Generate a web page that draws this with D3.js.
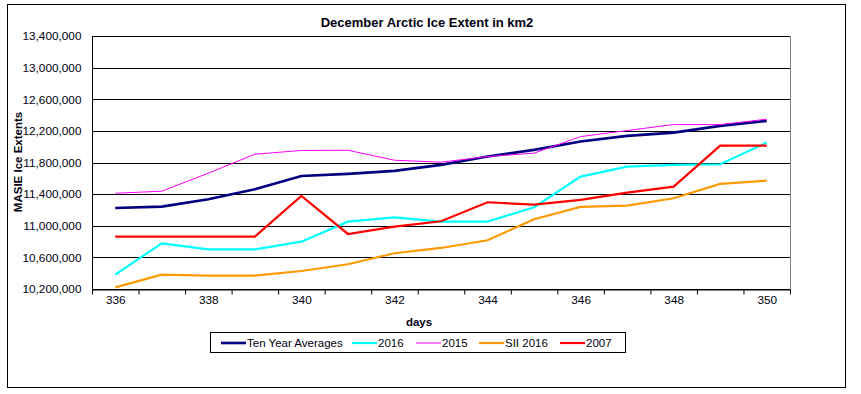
<!DOCTYPE html>
<html>
<head>
<meta charset="utf-8">
<script src="https://cdn.jsdelivr.net/npm/d3@7"></script>
<style>
  body { margin: 0; background: #fff; }
  svg { font-family: "Liberation Sans", Arial, sans-serif; }
  .axis path, .axis line { stroke: #000; }
  .axis text { fill: #000010; font-size: 11.8px; }
</style>
</head>
<body>
<script>
const days = [336,337,338,339,340,341,342,343,344,345,346,347,348,349,350];
const tenYear = [11225000,11242000,11335000,11462000,11630000,11656000,11694000,11770000,11875000,11960000,12065000,12137000,12178000,12263000,12327000];
const y2016 = [10381000,10778000,10702000,10702000,10799000,11052000,11107000,11052000,11052000,11234000,11621000,11748000,11770000,11778000,12052000];
const y2015 = [11411000,11437000,11665000,11905000,11952000,11955000,11829000,11804000,11875000,11918000,12128000,12204000,12280000,12280000,12348000];
const sii2016 = [10221000,10381000,10368000,10368000,10428000,10513000,10652000,10719000,10817000,11082000,11238000,11254000,11348000,11529000,11571000];
const y2007 = [10862000,10862000,10862000,10862000,11377000,10896000,10989000,11057000,11297000,11267000,11327000,11419000,11495000,12014000,12014000];
const yTicks = d3.range(10200000, 13400001, 400000);
const xLabels = [336,338,340,342,344,346,348,350];

const series = [
  {name: "Ten Year Averages", values: tenYear, color: "#000080", width: 2.6},
  {name: "2016", values: y2016, color: "#00ffff", width: 2.2},
  {name: "2015", values: y2015, color: "#ff00ff", width: 1},
  {name: "SII 2016", values: sii2016, color: "#ff9900", width: 2.2},
  {name: "2007", values: y2007, color: "#ff0000", width: 2.2}
];

const W = 861, H = 394;
const pLeft = 92, pRight = 790, pTop = 36, pBottom = 289;

const svg = d3.select("body").append("svg").attr("width", W).attr("height", H);

// chart border
svg.append("rect").attr("x", 7.5).attr("y", 4.5).attr("width", 838).attr("height", 383)
  .attr("fill", "#fff").attr("stroke", "#000");

const x = d3.scaleLinear().domain([335.5, 350.5]).range([pLeft, pRight]);
const y = d3.scaleLinear().domain([10200000, 13400000]).range([pBottom, pTop]);

// plot area right border
svg.append("line").attr("x1", pRight + 0.5).attr("x2", pRight + 0.5).attr("y1", pTop).attr("y2", pBottom)
  .attr("stroke", "#808080");

// gridlines
svg.append("g").selectAll("line").data(yTicks).enter().append("line")
  .attr("x1", pLeft).attr("x2", pRight)
  .attr("y1", d => Math.round(y(d)) + 0.5).attr("y2", d => Math.round(y(d)) + 0.5)
  .attr("stroke", "#000");

// y axis labels
const yAxis = d3.axisLeft(y).tickValues(yTicks).tickFormat(d3.format(",")).tickSize(0).tickPadding(11);
svg.append("g").attr("class", "axis").attr("transform", `translate(${pLeft + 0.5},0)`).call(yAxis)
  .call(g => g.select(".domain").remove());
svg.append("line").attr("x1", pLeft + 0.5).attr("x2", pLeft + 0.5).attr("y1", pTop).attr("y2", pBottom)
  .attr("stroke", "#000");

// x axis: ticks between categories, labels on every other category
const xTickAxis = d3.axisBottom(x).tickValues(d3.range(335.5, 351, 1)).tickFormat("").tickSize(5).tickSizeOuter(0);
svg.append("g").attr("class", "axis").attr("transform", `translate(0,${pBottom + 0.5})`).call(xTickAxis);
const xLabelAxis = d3.axisBottom(x).tickValues(xLabels).tickFormat(d3.format("d")).tickSize(0).tickPadding(7);
svg.append("g").attr("class", "axis").attr("transform", `translate(0,${pBottom})`).call(xLabelAxis)
  .call(g => g.select(".domain").remove());

// lines
const line = d3.line().x((d, i) => x(days[i])).y(d => y(d));
svg.append("g").selectAll("path").data(series).enter().append("path")
  .attr("d", d => line(d.values))
  .attr("fill", "none")
  .attr("stroke", d => d.color)
  .attr("stroke-width", d => d.width)
  .attr("stroke-linejoin", "miter");

// titles
svg.append("text").attr("x", 427).attr("y", 27).attr("text-anchor", "middle")
  .attr("font-size", 13).attr("font-weight", "bold").attr("fill", "#000010").text("December Arctic Ice Extent in km2");
svg.append("text").attr("x", 419).attr("y", 326).attr("text-anchor", "middle")
  .attr("font-size", 11.5).attr("font-weight", "bold").attr("fill", "#000010").text("days");
svg.append("text").attr("transform", "translate(22,162) rotate(-90)").attr("text-anchor", "middle")
  .attr("font-size", 11.5).attr("font-weight", "bold").attr("fill", "#000010").text("MASIE Ice Extents");

// legend
const legend = svg.append("g");
legend.append("rect").attr("x", 210.5).attr("y", 332.5).attr("width", 415).attr("height", 20)
  .attr("fill", "#fff").attr("stroke", "#000");
const legendX = [221, 352, 416, 479, 560];
const items = legend.selectAll("g").data(series).enter().append("g")
  .attr("transform", (d, i) => `translate(${legendX[i]},343)`);
items.append("line").attr("x1", 0).attr("x2", 25).attr("y1", 0).attr("y2", 0)
  .attr("stroke", d => d.color).attr("stroke-width", d => d.width);
items.append("text").attr("x", 26).attr("y", 4).attr("font-size", 11.5).attr("fill", "#000010").text(d => d.name);
</script>
</body>
</html>
